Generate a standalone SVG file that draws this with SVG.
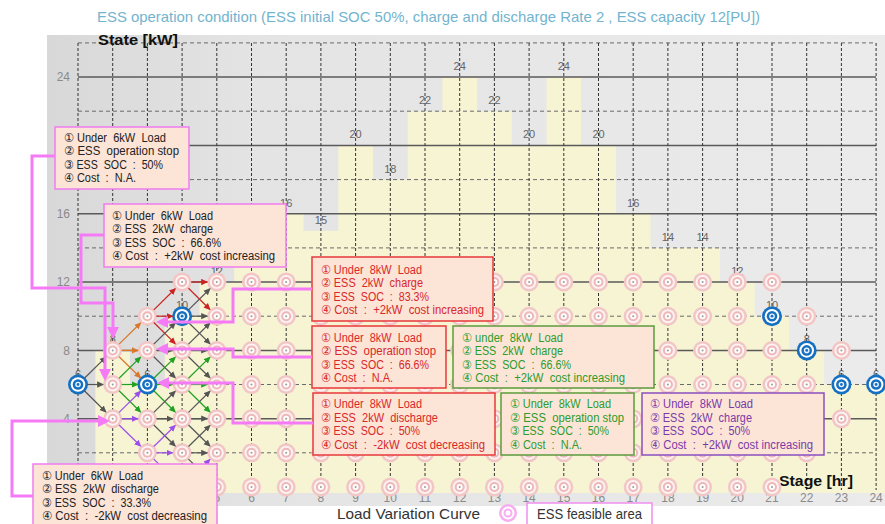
<svg xmlns="http://www.w3.org/2000/svg" xmlns:xlink="http://www.w3.org/1999/xlink" width="885" height="524" viewBox="0 0 885 524">
<defs>
<linearGradient id="bg" x1="0" y1="0" x2="1" y2="0"><stop offset="0" stop-color="#d8d8d8"/><stop offset="0.25" stop-color="#e4e4e4"/><stop offset="1" stop-color="#ebebeb"/></linearGradient>
<g id="pn"><circle r="9.5" fill="#f3c6c6"/><circle r="7" fill="#fdf2f2"/><circle r="5" fill="#efb7b7"/><circle r="3" fill="#fff"/><circle r="1" fill="#999"/></g>
<g id="bn"><circle r="10" fill="#1670c2"/><circle r="7.3" fill="#fff"/><circle r="5.3" fill="#1670c2"/><circle r="2.8" fill="#eef4ff"/><circle r="1.4" fill="#1670c2"/></g>
<marker id="mg" viewBox="0 0 10 10" refX="8" refY="5" markerWidth="7" markerHeight="7" markerUnits="userSpaceOnUse" orient="auto"><path d="M0,0.5L10,5L0,9.5z" fill="#555"/></marker>
<marker id="mo" viewBox="0 0 10 10" refX="8" refY="5" markerWidth="7" markerHeight="7" markerUnits="userSpaceOnUse" orient="auto"><path d="M0,0.5L10,5L0,9.5z" fill="#d9772a"/></marker>
<marker id="mgr" viewBox="0 0 10 10" refX="8" refY="5" markerWidth="7" markerHeight="7" markerUnits="userSpaceOnUse" orient="auto"><path d="M0,0.5L10,5L0,9.5z" fill="#22a022"/></marker>
<marker id="mp" viewBox="0 0 10 10" refX="8" refY="5" markerWidth="7" markerHeight="7" markerUnits="userSpaceOnUse" orient="auto"><path d="M0,0.5L10,5L0,9.5z" fill="#9b4fe8"/></marker>
<marker id="mr" viewBox="0 0 10 10" refX="8" refY="5" markerWidth="7" markerHeight="7" markerUnits="userSpaceOnUse" orient="auto"><path d="M0,0.5L10,5L0,9.5z" fill="#cc2222"/></marker>
<marker id="mm" viewBox="0 0 12 12" refX="8" refY="6" markerWidth="12" markerHeight="12" markerUnits="userSpaceOnUse" orient="auto"><path d="M0,0L12,6L0,12z" fill="#f57af5"/></marker>
</defs>
<style>
.hs{stroke:#5a5a5a;stroke-width:1.5}
.hd{stroke:#6a6a6a;stroke-width:1;stroke-dasharray:4 3}
.vd{stroke:#333;stroke-width:1;stroke-dasharray:3 2}
.ax{font-family:"Liberation Sans",Arial,sans-serif;font-size:12px;fill:#8a8a8a}
.ld{font-family:"Liberation Sans",Arial,sans-serif;font-size:11px;fill:#666;text-anchor:middle}
.bx text{font-family:"Liberation Sans","DejaVu Sans",sans-serif;font-size:12.5px;white-space:pre}
.bx rect{fill:#fce4d6;stroke-width:1.5}
.bk rect{stroke:#f07cf0}.bk text{fill:#222}
.rd rect{stroke:#e8383a}.rd text{fill:#d8282a}
.gr rect{stroke:#5e9a3e}.gr text{fill:#2c9c2c}
.pu rect{stroke:#8a4fc0}.pu text{fill:#7a3aa8}
.a{fill:none;stroke-width:1.2}
.ag{stroke:#555;marker-end:url(#mg)}
.ao{stroke:#d9772a;marker-end:url(#mo)}
.agr{stroke:#22a022;marker-end:url(#mgr)}
.ap{stroke:#9b4fe8;marker-end:url(#mp)}
.ar{stroke:#cc2222;marker-end:url(#mr)}
.mc{fill:none;stroke:#f57af5;stroke-width:3;marker-end:url(#mm)}
.bold{font-family:"Liberation Sans",Arial,sans-serif;font-weight:bold;font-size:14px;fill:#111}
</style>
<rect width="885" height="524" fill="#fff"/>
<rect x="47" y="35" width="838" height="471" fill="url(#bg)"/>
<text x="97" y="22" font-family="Liberation Sans, Arial, sans-serif" font-size="15" fill="#72b4cf" textLength="663" lengthAdjust="spacingAndGlyphs">ESS operation condition (ESS initial SOC 50%, charge and discharge Rate 2 , ESS capacity 12[PU])</text>
<path id="load-curve" d="M95.4,493V350.4H130V384.5H164.8V316.2H199.5V282H234.2V247.9H268.9V213.7H303.6V230.8H338.3V145.4H373V179.6H407.7V111.2H442.4V77.1H477.1V111.2H511.8V145.4H546.5V77.1H581.2V145.4H615.9V213.7H650.6V247.9H720V282H754.7V316.2H789.4V350.4H824.1V384.5H885V493Z" fill="#f6f4d3"/>
<g id="hlines">
<line class="hd" x1="78" y1="42.9" x2="876" y2="42.9"/>
<line class="hs" x1="78" y1="77.1" x2="876" y2="77.1"/>
<line class="hd" x1="78" y1="111.2" x2="876" y2="111.2"/>
<line class="hs" x1="78" y1="145.4" x2="876" y2="145.4"/>
<line class="hd" x1="78" y1="179.6" x2="876" y2="179.6"/>
<line class="hs" x1="78" y1="213.7" x2="876" y2="213.7"/>
<line class="hd" x1="78" y1="247.9" x2="876" y2="247.9"/>
<line class="hs" x1="78" y1="282" x2="876" y2="282"/>
<line class="hd" x1="78" y1="316.2" x2="876" y2="316.2"/>
<line class="hs" x1="78" y1="350.4" x2="876" y2="350.4"/>
<line class="hd" x1="78" y1="384.5" x2="876" y2="384.5"/>
<line class="hs" x1="78" y1="418.7" x2="876" y2="418.7"/>
<line class="hd" x1="78" y1="452.8" x2="876" y2="452.8"/>
</g>
<g id="ylabels" class="ax" text-anchor="end">
<text x="70" y="81">24</text><text x="70" y="218">16</text><text x="70" y="286">12</text><text x="70" y="355">8</text><text x="70" y="423">4</text>
</g>
<g id="xlabels" class="ax" text-anchor="middle">
<text x="216.8" y="502">5</text><text x="251.5" y="502">6</text><text x="286.2" y="502">7</text><text x="320.9" y="502">8</text><text x="355.6" y="502">9</text><text x="390.3" y="502">10</text><text x="425" y="502">11</text><text x="459.7" y="502">12</text><text x="494.4" y="502">13</text><text x="529.1" y="502">14</text><text x="563.8" y="502">15</text><text x="598.5" y="502">16</text><text x="633.2" y="502">17</text><text x="667.9" y="502">18</text><text x="702.6" y="502">19</text><text x="737.3" y="502">20</text><text x="772" y="502">21</text><text x="806.7" y="502">22</text><text x="841.4" y="502">23</text><text x="876.1" y="502">24</text>
</g>
<g id="load-labels" class="ld">
<text x="78" y="377.5">6</text><text x="112.7" y="343.4">8</text><text x="147.4" y="377.5">6</text><text x="182.1" y="309.2">10</text><text x="216.8" y="275">12</text><text x="286.2" y="206.7">16</text><text x="320.9" y="223.8">15</text><text x="355.6" y="138.4">20</text><text x="390.3" y="172.6">18</text><text x="425" y="104.2">22</text><text x="459.7" y="70.1">24</text><text x="494.4" y="104.2">22</text><text x="529.1" y="138.4">20</text><text x="563.8" y="70.1">24</text><text x="598.5" y="138.4">20</text><text x="633.2" y="206.7">16</text><text x="667.9" y="240.9">14</text><text x="702.6" y="240.9">14</text><text x="737.3" y="275">12</text><text x="772" y="309.2">10</text><text x="806.7" y="343.4">8</text><text x="841.4" y="377.5">6</text><text x="876.1" y="377.5">6</text>
</g>
<g id="vlines">
<line class="vd" x1="78" y1="43" x2="78" y2="490"/><line class="vd" x1="112.7" y1="43" x2="112.7" y2="490"/><line class="vd" x1="147.4" y1="43" x2="147.4" y2="490"/><line class="vd" x1="182.1" y1="43" x2="182.1" y2="490"/><line class="vd" x1="216.8" y1="43" x2="216.8" y2="490"/><line class="vd" x1="251.5" y1="43" x2="251.5" y2="490"/><line class="vd" x1="286.2" y1="43" x2="286.2" y2="490"/><line class="vd" x1="320.9" y1="43" x2="320.9" y2="490"/><line class="vd" x1="355.6" y1="43" x2="355.6" y2="490"/><line class="vd" x1="390.3" y1="43" x2="390.3" y2="490"/><line class="vd" x1="425" y1="43" x2="425" y2="490"/><line class="vd" x1="459.7" y1="43" x2="459.7" y2="490"/><line class="vd" x1="494.4" y1="43" x2="494.4" y2="490"/><line class="vd" x1="529.1" y1="43" x2="529.1" y2="490"/><line class="vd" x1="563.8" y1="43" x2="563.8" y2="490"/><line class="vd" x1="598.5" y1="43" x2="598.5" y2="490"/><line class="vd" x1="633.2" y1="43" x2="633.2" y2="490"/><line class="vd" x1="667.9" y1="43" x2="667.9" y2="490"/><line class="vd" x1="702.6" y1="43" x2="702.6" y2="490"/><line class="vd" x1="737.3" y1="43" x2="737.3" y2="490"/><line class="vd" x1="772" y1="43" x2="772" y2="490"/><line class="vd" x1="806.7" y1="43" x2="806.7" y2="490"/><line class="vd" x1="841.4" y1="43" x2="841.4" y2="490"/><line class="vd" x1="876.1" y1="43" x2="876.1" y2="490"/>
</g>
<text x="98" y="45" class="bold" textLength="80" lengthAdjust="spacingAndGlyphs">State [kW]</text>
<text x="779" y="486" class="bold" textLength="74" lengthAdjust="spacingAndGlyphs">Stage [hr]</text>
<g id="nodes">
<use id="n1-6" xlink:href="#bn" x="78" y="384.5"/>
<use id="n2-4" xlink:href="#pn" x="112.7" y="418.7"/><use id="n2-6" xlink:href="#pn" x="112.7" y="384.5"/><use id="n2-8" xlink:href="#pn" x="112.7" y="350.4"/>
<use id="n3-2" xlink:href="#pn" x="147.4" y="452.8"/><use id="n3-4" xlink:href="#pn" x="147.4" y="418.7"/><use id="n3-6" xlink:href="#bn" x="147.4" y="384.5"/><use id="n3-8" xlink:href="#pn" x="147.4" y="350.4"/><use id="n3-10" xlink:href="#pn" x="147.4" y="316.2"/>
<use id="n4-0" xlink:href="#pn" x="182.1" y="487"/><use id="n4-2" xlink:href="#pn" x="182.1" y="452.8"/><use id="n4-4" xlink:href="#pn" x="182.1" y="418.7"/><use id="n4-6" xlink:href="#pn" x="182.1" y="384.5"/><use id="n4-8" xlink:href="#pn" x="182.1" y="350.4"/><use id="n4-10" xlink:href="#bn" x="182.1" y="316.2"/><use id="n4-12" xlink:href="#pn" x="182.1" y="282"/>
<use id="n5-0" xlink:href="#pn" x="216.8" y="487"/><use id="n5-2" xlink:href="#pn" x="216.8" y="452.8"/><use id="n5-4" xlink:href="#pn" x="216.8" y="418.7"/><use id="n5-6" xlink:href="#pn" x="216.8" y="384.5"/><use id="n5-8" xlink:href="#pn" x="216.8" y="350.4"/><use id="n5-10" xlink:href="#pn" x="216.8" y="316.2"/><use id="n5-12" xlink:href="#pn" x="216.8" y="282"/>
<use id="n6-0" xlink:href="#pn" x="251.5" y="487"/><use id="n6-2" xlink:href="#pn" x="251.5" y="452.8"/><use id="n6-4" xlink:href="#pn" x="251.5" y="418.7"/><use id="n6-6" xlink:href="#pn" x="251.5" y="384.5"/><use id="n6-8" xlink:href="#pn" x="251.5" y="350.4"/><use id="n6-10" xlink:href="#pn" x="251.5" y="316.2"/><use id="n6-12" xlink:href="#pn" x="251.5" y="282"/>
<use id="n7-0" xlink:href="#pn" x="286.2" y="487"/><use id="n7-2" xlink:href="#pn" x="286.2" y="452.8"/><use id="n7-4" xlink:href="#pn" x="286.2" y="418.7"/><use id="n7-6" xlink:href="#pn" x="286.2" y="384.5"/><use id="n7-8" xlink:href="#pn" x="286.2" y="350.4"/><use id="n7-10" xlink:href="#pn" x="286.2" y="316.2"/><use id="n7-12" xlink:href="#pn" x="286.2" y="282"/>
<use id="n8-0" xlink:href="#pn" x="320.9" y="487"/><use id="n8-2" xlink:href="#pn" x="320.9" y="452.8"/><use id="n8-4" xlink:href="#pn" x="320.9" y="418.7"/><use id="n8-6" xlink:href="#pn" x="320.9" y="384.5"/><use id="n8-8" xlink:href="#pn" x="320.9" y="350.4"/><use id="n8-10" xlink:href="#pn" x="320.9" y="316.2"/><use id="n8-12" xlink:href="#pn" x="320.9" y="282"/>
<use id="n9-0" xlink:href="#pn" x="355.6" y="487"/><use id="n9-2" xlink:href="#pn" x="355.6" y="452.8"/><use id="n9-4" xlink:href="#pn" x="355.6" y="418.7"/><use id="n9-6" xlink:href="#pn" x="355.6" y="384.5"/><use id="n9-8" xlink:href="#pn" x="355.6" y="350.4"/><use id="n9-10" xlink:href="#pn" x="355.6" y="316.2"/><use id="n9-12" xlink:href="#pn" x="355.6" y="282"/>
<use id="n10-0" xlink:href="#pn" x="390.3" y="487"/><use id="n10-2" xlink:href="#pn" x="390.3" y="452.8"/><use id="n10-4" xlink:href="#pn" x="390.3" y="418.7"/><use id="n10-6" xlink:href="#pn" x="390.3" y="384.5"/><use id="n10-8" xlink:href="#pn" x="390.3" y="350.4"/><use id="n10-10" xlink:href="#pn" x="390.3" y="316.2"/><use id="n10-12" xlink:href="#pn" x="390.3" y="282"/>
<use id="n11-0" xlink:href="#pn" x="425" y="487"/><use id="n11-2" xlink:href="#pn" x="425" y="452.8"/><use id="n11-4" xlink:href="#pn" x="425" y="418.7"/><use id="n11-6" xlink:href="#pn" x="425" y="384.5"/><use id="n11-8" xlink:href="#pn" x="425" y="350.4"/><use id="n11-10" xlink:href="#pn" x="425" y="316.2"/><use id="n11-12" xlink:href="#pn" x="425" y="282"/>
<use id="n12-0" xlink:href="#pn" x="459.7" y="487"/><use id="n12-2" xlink:href="#pn" x="459.7" y="452.8"/><use id="n12-4" xlink:href="#pn" x="459.7" y="418.7"/><use id="n12-6" xlink:href="#pn" x="459.7" y="384.5"/><use id="n12-8" xlink:href="#pn" x="459.7" y="350.4"/><use id="n12-10" xlink:href="#pn" x="459.7" y="316.2"/><use id="n12-12" xlink:href="#pn" x="459.7" y="282"/>
<use id="n13-0" xlink:href="#pn" x="494.4" y="487"/><use id="n13-2" xlink:href="#pn" x="494.4" y="452.8"/><use id="n13-4" xlink:href="#pn" x="494.4" y="418.7"/><use id="n13-6" xlink:href="#pn" x="494.4" y="384.5"/><use id="n13-8" xlink:href="#pn" x="494.4" y="350.4"/><use id="n13-10" xlink:href="#pn" x="494.4" y="316.2"/><use id="n13-12" xlink:href="#pn" x="494.4" y="282"/>
<use id="n14-0" xlink:href="#pn" x="529.1" y="487"/><use id="n14-2" xlink:href="#pn" x="529.1" y="452.8"/><use id="n14-4" xlink:href="#pn" x="529.1" y="418.7"/><use id="n14-6" xlink:href="#pn" x="529.1" y="384.5"/><use id="n14-8" xlink:href="#pn" x="529.1" y="350.4"/><use id="n14-10" xlink:href="#pn" x="529.1" y="316.2"/><use id="n14-12" xlink:href="#pn" x="529.1" y="282"/>
<use id="n15-0" xlink:href="#pn" x="563.8" y="487"/><use id="n15-2" xlink:href="#pn" x="563.8" y="452.8"/><use id="n15-4" xlink:href="#pn" x="563.8" y="418.7"/><use id="n15-6" xlink:href="#pn" x="563.8" y="384.5"/><use id="n15-8" xlink:href="#pn" x="563.8" y="350.4"/><use id="n15-10" xlink:href="#pn" x="563.8" y="316.2"/><use id="n15-12" xlink:href="#pn" x="563.8" y="282"/>
<use id="n16-0" xlink:href="#pn" x="598.5" y="487"/><use id="n16-2" xlink:href="#pn" x="598.5" y="452.8"/><use id="n16-4" xlink:href="#pn" x="598.5" y="418.7"/><use id="n16-6" xlink:href="#pn" x="598.5" y="384.5"/><use id="n16-8" xlink:href="#pn" x="598.5" y="350.4"/><use id="n16-10" xlink:href="#pn" x="598.5" y="316.2"/><use id="n16-12" xlink:href="#pn" x="598.5" y="282"/>
<use id="n17-0" xlink:href="#pn" x="633.2" y="487"/><use id="n17-2" xlink:href="#pn" x="633.2" y="452.8"/><use id="n17-4" xlink:href="#pn" x="633.2" y="418.7"/><use id="n17-6" xlink:href="#pn" x="633.2" y="384.5"/><use id="n17-8" xlink:href="#pn" x="633.2" y="350.4"/><use id="n17-10" xlink:href="#pn" x="633.2" y="316.2"/><use id="n17-12" xlink:href="#pn" x="633.2" y="282"/>
<use id="n18-0" xlink:href="#pn" x="667.9" y="487"/><use id="n18-2" xlink:href="#pn" x="667.9" y="452.8"/><use id="n18-4" xlink:href="#pn" x="667.9" y="418.7"/><use id="n18-6" xlink:href="#pn" x="667.9" y="384.5"/><use id="n18-8" xlink:href="#pn" x="667.9" y="350.4"/><use id="n18-10" xlink:href="#pn" x="667.9" y="316.2"/><use id="n18-12" xlink:href="#pn" x="667.9" y="282"/>
<use id="n19-0" xlink:href="#pn" x="702.6" y="487"/><use id="n19-2" xlink:href="#pn" x="702.6" y="452.8"/><use id="n19-4" xlink:href="#pn" x="702.6" y="418.7"/><use id="n19-6" xlink:href="#pn" x="702.6" y="384.5"/><use id="n19-8" xlink:href="#pn" x="702.6" y="350.4"/><use id="n19-10" xlink:href="#pn" x="702.6" y="316.2"/><use id="n19-12" xlink:href="#pn" x="702.6" y="282"/>
<use id="n20-0" xlink:href="#pn" x="737.3" y="487"/><use id="n20-2" xlink:href="#pn" x="737.3" y="452.8"/><use id="n20-4" xlink:href="#pn" x="737.3" y="418.7"/><use id="n20-6" xlink:href="#pn" x="737.3" y="384.5"/><use id="n20-8" xlink:href="#pn" x="737.3" y="350.4"/><use id="n20-10" xlink:href="#pn" x="737.3" y="316.2"/><use id="n20-12" xlink:href="#pn" x="737.3" y="282"/>
<use id="n21-0" xlink:href="#pn" x="772" y="487"/><use id="n21-2" xlink:href="#pn" x="772" y="452.8"/><use id="n21-4" xlink:href="#pn" x="772" y="418.7"/><use id="n21-6" xlink:href="#pn" x="772" y="384.5"/><use id="n21-8" xlink:href="#pn" x="772" y="350.4"/><use id="n21-10" xlink:href="#bn" x="772" y="316.2"/><use id="n21-12" xlink:href="#pn" x="772" y="282"/>
<use id="n22-2" xlink:href="#pn" x="806.7" y="452.8"/><use id="n22-4" xlink:href="#pn" x="806.7" y="418.7"/><use id="n22-6" xlink:href="#pn" x="806.7" y="384.5"/><use id="n22-8" xlink:href="#bn" x="806.7" y="350.4"/><use id="n22-10" xlink:href="#pn" x="806.7" y="316.2"/>
<use id="n23-4" xlink:href="#pn" x="841.4" y="418.7"/><use id="n23-6" xlink:href="#bn" x="841.4" y="384.5"/><use id="n23-8" xlink:href="#pn" x="841.4" y="350.4"/>
<use id="n24-6" xlink:href="#bn" x="876.1" y="384.5"/>
</g>
<g id="transitions">
<path class="a ag" d="M84.4,378.2L105.6,357.4"/><path class="a ag" d="M87,384.5L102.7,384.5"/><path class="a ag" d="M84.4,390.8L105.6,411.7"/>
<path class="a ao" d="M119.1,344.1L140.3,323.2"/><path class="a ao" d="M121.7,350.4L137.4,350.4"/><path class="a ao" d="M119.1,356.7L140.3,377.5"/>
<path class="a agr" d="M119.1,378.2L140.3,357.4"/><path class="a agr" d="M121.7,384.5L137.4,384.5"/><path class="a agr" d="M119.1,390.8L140.3,411.7"/>
<path class="a ap" d="M119.1,412.4L140.3,391.5"/><path class="a ap" d="M121.7,418.7L137.4,418.7"/><path class="a ap" d="M119.1,425L140.3,445.8"/>
<path class="a ar" d="M153.8,309.9L175,289"/><path class="a ar" d="M156.4,316.2L172.1,316.2"/><path class="a ar" d="M153.8,322.5L175,343.4"/>
<path class="a ag" d="M153.8,344.1L175,323.2"/><path class="a ag" d="M156.4,350.4L172.1,350.4"/><path class="a ag" d="M153.8,356.7L175,377.5"/>
<path class="a agr" d="M153.8,378.2L175,357.4"/><path class="a agr" d="M156.4,384.5L172.1,384.5"/><path class="a agr" d="M153.8,390.8L175,411.7"/>
<path class="a ag" d="M153.8,412.4L175,391.5"/><path class="a ag" d="M156.4,418.7L172.1,418.7"/><path class="a ag" d="M153.8,425L175,445.8"/>
<path class="a ap" d="M153.8,446.5L175,425.7"/><path class="a ap" d="M156.4,452.8L172.1,452.8"/><path class="a ap" d="M153.8,459.1L175,480"/>
<path class="a ar" d="M191.1,282L206.8,282"/><path class="a ar" d="M188.5,288.3L209.7,309.2"/>
<path class="a ag" d="M188.5,309.9L209.7,289"/><path class="a ag" d="M191.1,316.2L206.8,316.2"/><path class="a ag" d="M188.5,322.5L209.7,343.4"/>
<path class="a ag" d="M188.5,344.1L209.7,323.2"/><path class="a ag" d="M191.1,350.4L206.8,350.4"/><path class="a ag" d="M188.5,356.7L209.7,377.5"/>
<path class="a agr" d="M188.5,378.2L209.7,357.4"/><path class="a agr" d="M191.1,384.5L206.8,384.5"/><path class="a agr" d="M188.5,390.8L209.7,411.7"/>
<path class="a ag" d="M188.5,412.4L209.7,391.5"/><path class="a ag" d="M191.1,418.7L206.8,418.7"/><path class="a ag" d="M188.5,425L209.7,445.8"/>
<path class="a ag" d="M188.5,446.5L209.7,425.7"/><path class="a ag" d="M191.1,452.8L206.8,452.8"/><path class="a ag" d="M188.5,459.1L209.7,480"/>
<path class="a ap" d="M188.5,480.7L209.7,459.8"/><path class="a ap" d="M191.1,487L206.8,487"/>
</g>
<g id="boxA" class="bx bk"><rect x="55" y="127" width="134" height="62"/>
<text x="64" y="141.5" textLength="102" lengthAdjust="spacingAndGlyphs">① Under  6kW  Load</text>
<text x="64" y="155" textLength="115" lengthAdjust="spacingAndGlyphs">② ESS  operation stop</text>
<text x="64" y="168.5" textLength="99" lengthAdjust="spacingAndGlyphs">③ ESS  SOC  :  50%</text>
<text x="64" y="182" textLength="72" lengthAdjust="spacingAndGlyphs">④ Cost  :  N.A.</text></g>
<g id="boxB" class="bx bk"><rect x="104" y="204" width="182" height="63"/>
<text x="112" y="219.5" textLength="101" lengthAdjust="spacingAndGlyphs">① Under  6kW  Load</text>
<text x="112" y="233" textLength="101" lengthAdjust="spacingAndGlyphs">② ESS  2kW  charge</text>
<text x="112" y="246.5" textLength="109" lengthAdjust="spacingAndGlyphs">③ ESS  SOC  :  66.6%</text>
<text x="112" y="260" textLength="163" lengthAdjust="spacingAndGlyphs">④ Cost  :  +2kW  cost increasing</text></g>
<g id="boxC" class="bx bk"><rect x="33" y="464" width="184" height="66"/>
<text x="42" y="479.5" textLength="101" lengthAdjust="spacingAndGlyphs">① Under  6kW  Load</text>
<text x="42" y="493" textLength="117" lengthAdjust="spacingAndGlyphs">② ESS  2kW  discharge</text>
<text x="42" y="506.5" textLength="109" lengthAdjust="spacingAndGlyphs">③ ESS  SOC  :  33.3%</text>
<text x="42" y="520" textLength="165" lengthAdjust="spacingAndGlyphs">④ Cost  :  -2kW  cost decreasing</text></g>
<g id="boxD" class="bx rd"><rect x="312" y="257" width="181" height="64"/>
<text x="321" y="273.5" textLength="101" lengthAdjust="spacingAndGlyphs">① Under  8kW  Load</text>
<text x="321" y="287" textLength="102" lengthAdjust="spacingAndGlyphs">② ESS  2kW  charge</text>
<text x="321" y="300.5" textLength="108" lengthAdjust="spacingAndGlyphs">③ ESS  SOC  :  83.3%</text>
<text x="321" y="314" textLength="163" lengthAdjust="spacingAndGlyphs">④ Cost  :  +2kW  cost increasing</text></g>
<g id="boxE" class="bx rd"><rect x="312" y="326" width="134" height="62"/>
<text x="321" y="341.5" textLength="101" lengthAdjust="spacingAndGlyphs">① Under  8kW  Load</text>
<text x="321" y="355" textLength="115" lengthAdjust="spacingAndGlyphs">② ESS  operation stop</text>
<text x="321" y="368.5" textLength="108" lengthAdjust="spacingAndGlyphs">③ ESS  SOC  :  66.6%</text>
<text x="321" y="382" textLength="72" lengthAdjust="spacingAndGlyphs">④ Cost  :  N.A.</text></g>
<g id="boxF" class="bx rd"><rect x="313" y="393" width="182" height="62"/>
<text x="321" y="408" textLength="101" lengthAdjust="spacingAndGlyphs">① Under  8kW  Load</text>
<text x="321" y="421.5" textLength="117" lengthAdjust="spacingAndGlyphs">② ESS  2kW  discharge</text>
<text x="321" y="435" textLength="99" lengthAdjust="spacingAndGlyphs">③ ESS  SOC  :  50%</text>
<text x="321" y="448.5" textLength="164" lengthAdjust="spacingAndGlyphs">④ Cost  :  -2kW  cost decreasing</text></g>
<g id="boxG" class="bx gr"><rect x="453" y="326" width="201" height="62"/>
<text x="462" y="341.5" textLength="101" lengthAdjust="spacingAndGlyphs">① under  8kW  Load</text>
<text x="462" y="355" textLength="101" lengthAdjust="spacingAndGlyphs">② ESS  2kW  charge</text>
<text x="462" y="368.5" textLength="109" lengthAdjust="spacingAndGlyphs">③ ESS  SOC  :  66.6%</text>
<text x="462" y="382" textLength="163" lengthAdjust="spacingAndGlyphs">④ Cost  :  +2kW  cost increasing</text></g>
<g id="boxH" class="bx gr"><rect x="501" y="393" width="133" height="62"/>
<text x="510" y="408" textLength="101" lengthAdjust="spacingAndGlyphs">① Under  8kW  Load</text>
<text x="510" y="421.5" textLength="114" lengthAdjust="spacingAndGlyphs">② ESS  operation stop</text>
<text x="510" y="435" textLength="99" lengthAdjust="spacingAndGlyphs">③ ESS  SOC  :  50%</text>
<text x="510" y="448.5" textLength="72" lengthAdjust="spacingAndGlyphs">④ Cost  :  N.A.</text></g>
<g id="boxI" class="bx pu"><rect x="642" y="393" width="182" height="62"/>
<text x="650" y="408" textLength="103" lengthAdjust="spacingAndGlyphs">① Under  8kW  Load</text>
<text x="650" y="421.5" textLength="102" lengthAdjust="spacingAndGlyphs">② ESS  2kW  charge</text>
<text x="650" y="435" textLength="100" lengthAdjust="spacingAndGlyphs">③ ESS  SOC  :  50%</text>
<text x="650" y="448.5" textLength="163" lengthAdjust="spacingAndGlyphs">④ Cost  :  +2kW  cost increasing</text></g>
<g id="connectors">
<path class="mc" d="M55,156H32V288H105V377"/>
<path class="mc" d="M104,235H81V303H113V335"/>
<path class="mc" d="M33,496H12V421H106"/>
<path class="mc" d="M312,289H233V322H160"/>
<path class="mc" d="M312,357H233V349H160"/>
<path class="mc" d="M313,423H233V383H161"/>
</g>
<g id="legend">
<text x="337" y="519" font-family="Liberation Sans, Arial, sans-serif" font-size="15" fill="#333" textLength="143" lengthAdjust="spacingAndGlyphs">Load Variation Curve</text>
<circle cx="508" cy="513" r="9" fill="#f6aef0"/><circle cx="508" cy="513" r="6.5" fill="#fff"/><circle cx="508" cy="513" r="4.5" fill="#f6aef0"/><circle cx="508" cy="513" r="2.5" fill="#fff"/>
<rect x="527" y="503" width="125" height="24" fill="#fff" stroke="#f08ef0" stroke-width="1.5"/>
<text x="537" y="519" font-family="Liberation Sans, Arial, sans-serif" font-size="15" fill="#333" textLength="105" lengthAdjust="spacingAndGlyphs">ESS feasible area</text>
</g>
</svg>
